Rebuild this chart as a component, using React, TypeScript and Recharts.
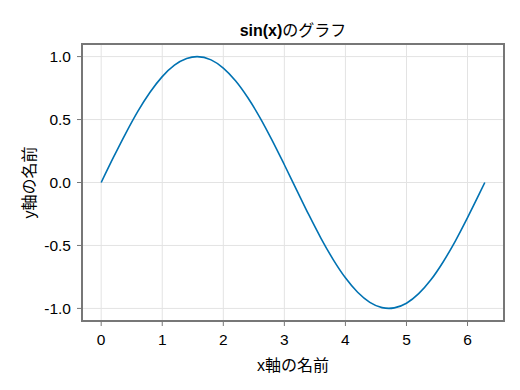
import React from "react";
import { LineChart, Line, XAxis, YAxis, CartesianGrid, ReferenceArea, Label } from "recharts";

const xValues = [0, 0.2, 0.4, 0.6, 0.8, 1.0, 1.2, 1.4, 1.571, 1.8, 2.0, 2.2, 2.4, 2.6, 2.8, 3.0, 3.2, 3.4, 3.6, 3.8, 4.0, 4.2, 4.4, 4.6, 4.712, 4.8, 5.0, 5.2, 5.4, 5.6, 5.8, 6.0, 6.2, 6.283];
const yValues = [0, 0.199, 0.389, 0.565, 0.717, 0.841, 0.932, 0.985, 1.0, 0.974, 0.909, 0.808, 0.675, 0.516, 0.335, 0.141, -0.058, -0.256, -0.443, -0.612, -0.757, -0.872, -0.952, -0.994, -1.0, -0.996, -0.959, -0.883, -0.773, -0.631, -0.465, -0.279, -0.083, 0];
const xTicks = [0, 1, 2, 3, 4, 5, 6];
const yTicks = [-1.0, -0.5, 0.0, 0.5, 1.0];
const xDomain: [number, number] = [-0.3142, 6.5973];
const yDomain: [number, number] = [-1.1, 1.1];

const titleBold = "sin(x)";
const titleRest = "のグラフ";
const xLabel = "x軸の名前";
const yLabel = "y軸の名前";

const data = xValues.map((x, i) => ({ x, y: yValues[i] }));

const FONT = "'Liberation Sans', 'Noto Sans CJK JP', sans-serif";
const FRAME = "#777777";

const TitleContent = (props: any) => {
  const vb = props.viewBox || {};
  const cx = vb.x + vb.width / 2;
  return (
    <text x={cx} y={vb.y - 8.5} textAnchor="middle" fontFamily={FONT} fontSize={16} fill="#000">
      <tspan fontWeight="bold">{titleBold}</tspan>
      <tspan fontWeight="normal">{titleRest}</tspan>
    </text>
  );
};

const YLabelContent = (props: any) => {
  const vb = props.viewBox || {};
  const cy = vb.y + vb.height / 2;
  const cx = 29;
  return (
    <text
      x={cx}
      y={cy}
      transform={`rotate(-90, ${cx}, ${cy})`}
      textAnchor="middle"
      dominantBaseline="central"
      fontFamily={FONT}
      fontSize={16}
      fill="#000"
    >
      {yLabel}
    </text>
  );
};

export default function App() {
  return (
    <div style={{ position: "absolute", left: 0, top: 0, width: 520, height: 390, background: "#fff" }}>
      <LineChart width={520} height={390} data={data} margin={{ top: 44, right: 16, bottom: 14, left: 22 }}>
        <CartesianGrid stroke="#e3e3e3" strokeWidth={1} />
        <XAxis
          dataKey="x"
          type="number"
          domain={xDomain}
          ticks={xTicks}
          allowDataOverflow
          height={55}
          axisLine={false}
          tickLine={{ stroke: FRAME, strokeWidth: 1 }}
          tickSize={5}
          tickMargin={8}
          tick={{ fill: "#000", fontSize: 15.5, fontFamily: FONT }}
        >
          <Label value={xLabel} position="insideBottom" offset={5} fill="#000" fontSize={16} fontFamily={FONT} />
        </XAxis>
        <YAxis
          type="number"
          domain={yDomain}
          ticks={yTicks}
          allowDataOverflow
          width={60}
          axisLine={false}
          tickLine={{ stroke: FRAME, strokeWidth: 1 }}
          tickSize={5}
          tickMargin={6}
          tickFormatter={(v: number) => v.toFixed(1)}
          tick={{ fill: "#000", fontSize: 15.5, fontFamily: FONT }}
        >
          <Label content={YLabelContent} />
        </YAxis>
        <Line
          type="monotone"
          dataKey="y"
          stroke="#0072B2"
          strokeWidth={1.6}
          dot={false}
          activeDot={false}
          isAnimationActive={false}
        />
        <ReferenceArea
          x1={xDomain[0]}
          x2={xDomain[1]}
          y1={yDomain[0]}
          y2={yDomain[1]}
          fill="none"
          fillOpacity={0}
          stroke={FRAME}
          strokeWidth={2}
          ifOverflow="visible"
          label={<TitleContent />}
        />
      </LineChart>
    </div>
  );
}
